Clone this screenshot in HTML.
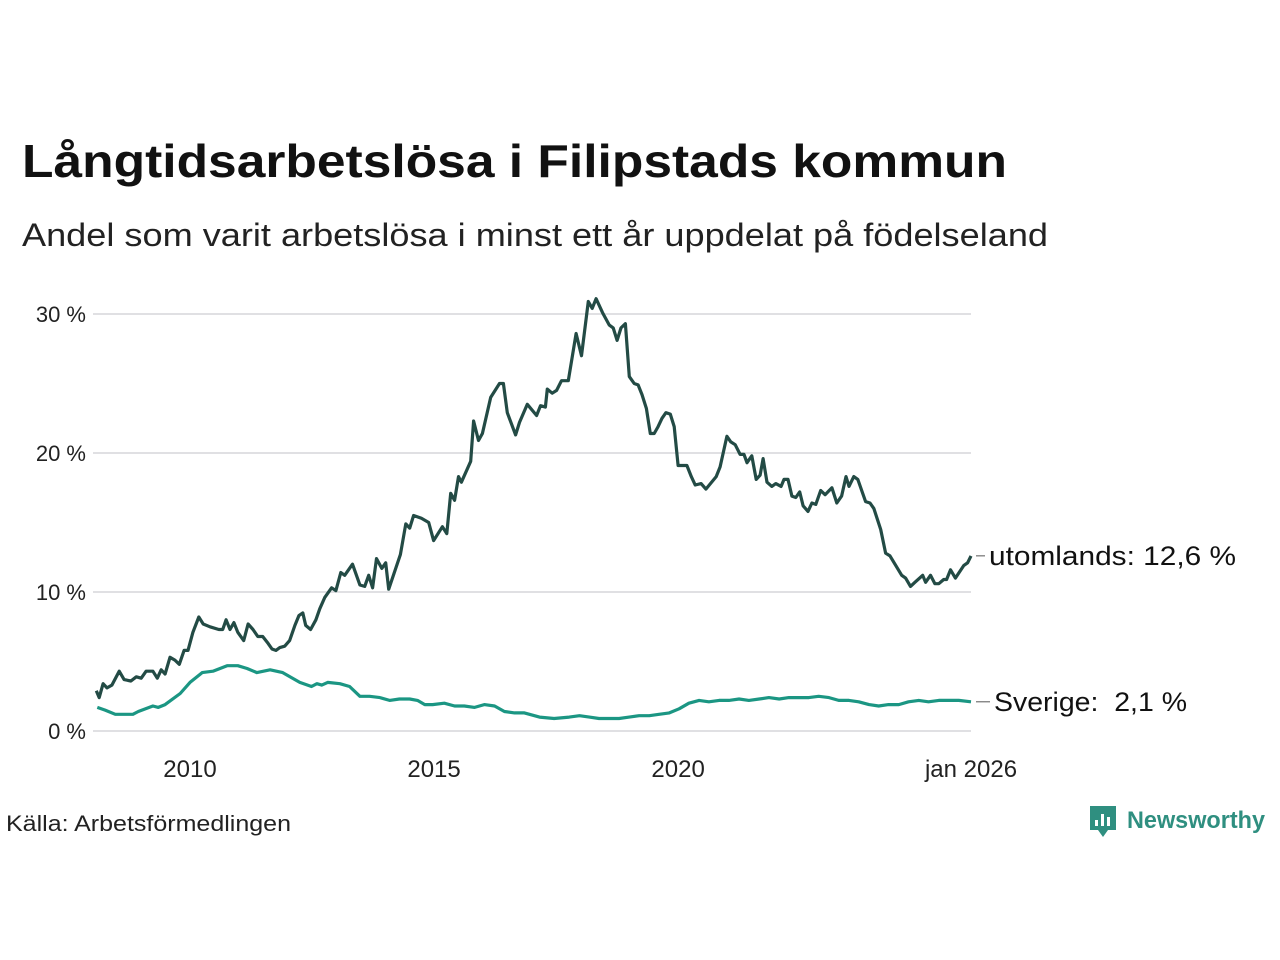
<!DOCTYPE html>
<html><head><meta charset="utf-8"><style>
html,body{margin:0;padding:0;background:#fff;width:1280px;height:960px;overflow:hidden}
svg text{font-family:"Liberation Sans","DejaVu Sans",sans-serif}
</style></head><body>
<svg id="chart" width="1280" height="960" viewBox="0 0 1280 960" xmlns="http://www.w3.org/2000/svg">
<text x="22" y="177" font-size="46" font-weight="bold" fill="#111" textLength="985" lengthAdjust="spacingAndGlyphs">Långtidsarbetslösa i Filipstads kommun</text>
<text x="22" y="246" font-size="32" fill="#222" textLength="1026" lengthAdjust="spacingAndGlyphs">Andel som varit arbetslösa i minst ett år uppdelat på födelseland</text>
<g id="grid"></g>
<g id="axes"></g>
<g id="series"></g>
<text x="6" y="831" font-size="22" fill="#222" textLength="285" lengthAdjust="spacingAndGlyphs">Källa: Arbetsförmedlingen</text>
<g>
<path d="M1090 806h26v24h-8l-5 7-5-7h-8z" fill="#2f8f80"/>
<rect x="1095" y="820" width="3" height="6" fill="#fff"/><rect x="1101" y="814" width="3" height="12" fill="#fff"/><rect x="1107" y="817" width="3" height="9" fill="#fff"/>
<text x="1127" y="828" font-size="24" font-weight="bold" fill="#2f8f80" textLength="138" lengthAdjust="spacingAndGlyphs">Newsworthy</text>
</g>
</svg>
<script>
const yTicks=[0,10,20,30];
const tickLabels=["0 %","10 %","20 %","30 %"];
const xTicks=[2010,2015,2020,2026];
const xTickLabels=["2010","2015","2020","jan 2026"];
const abroadDates=[2008.08,2008.14,2008.22,2008.30,2008.40,2008.55,2008.65,2008.79,2008.90,2009.00,2009.10,2009.24,2009.33,2009.41,2009.49,2009.59,2009.69,2009.78,2009.88,2009.96,2010.06,2010.18,2010.27,2010.41,2010.59,2010.67,2010.74,2010.82,2010.90,2010.98,2011.10,2011.19,2011.29,2011.39,2011.49,2011.60,2011.68,2011.76,2011.84,2011.94,2012.04,2012.15,2012.23,2012.31,2012.37,2012.47,2012.58,2012.66,2012.76,2012.90,2012.99,2013.09,2013.17,2013.33,2013.48,2013.58,2013.66,2013.74,2013.82,2013.93,2014.01,2014.07,2014.31,2014.42,2014.50,2014.58,2014.74,2014.89,2014.99,2015.17,2015.26,2015.34,2015.42,2015.50,2015.56,2015.75,2015.81,2015.91,2015.99,2016.16,2016.34,2016.42,2016.50,2016.67,2016.75,2016.91,2017.10,2017.18,2017.28,2017.32,2017.42,2017.51,2017.61,2017.75,2017.91,2018.02,2018.16,2018.24,2018.32,2018.45,2018.59,2018.67,2018.75,2018.83,2018.92,2019.00,2019.10,2019.18,2019.26,2019.35,2019.43,2019.51,2019.59,2019.67,2019.75,2019.84,2019.92,2020.00,2020.08,2020.18,2020.27,2020.35,2020.47,2020.57,2020.78,2020.86,2021.00,2021.08,2021.17,2021.27,2021.35,2021.41,2021.51,2021.60,2021.68,2021.74,2021.82,2021.92,2022.00,2022.11,2022.17,2022.25,2022.33,2022.41,2022.49,2022.56,2022.66,2022.74,2022.82,2022.92,2023.01,2023.15,2023.25,2023.35,2023.44,2023.50,2023.60,2023.68,2023.84,2023.93,2024.01,2024.15,2024.25,2024.34,2024.58,2024.66,2024.76,2024.85,2025.01,2025.07,2025.17,2025.26,2025.34,2025.44,2025.50,2025.58,2025.68,2025.85,2025.93,2026.00];
const abroadValues=[2.9,2.4,3.4,3.1,3.3,4.3,3.7,3.6,3.9,3.8,4.3,4.3,3.8,4.4,4.1,5.3,5.1,4.8,5.8,5.8,7.1,8.2,7.7,7.5,7.3,7.3,8.0,7.3,7.8,7.1,6.5,7.7,7.3,6.8,6.8,6.3,5.9,5.8,6.0,6.1,6.5,7.6,8.3,8.5,7.6,7.3,8.0,8.8,9.6,10.3,10.1,11.4,11.2,12.0,10.5,10.4,11.2,10.3,12.4,11.7,12.1,10.2,12.7,14.9,14.6,15.5,15.3,15.0,13.7,14.7,14.2,17.1,16.6,18.3,17.9,19.4,22.3,20.9,21.4,24.0,25.0,25.0,22.9,21.3,22.2,23.5,22.7,23.4,23.3,24.6,24.3,24.5,25.2,25.2,28.6,27.0,30.9,30.4,31.1,30.1,29.2,29.0,28.1,29.0,29.3,25.5,25.0,24.9,24.2,23.2,21.4,21.4,21.9,22.5,22.9,22.8,21.9,19.1,19.1,19.1,18.3,17.7,17.8,17.4,18.3,19.0,21.2,20.8,20.6,19.9,19.9,19.3,19.8,18.1,18.4,19.6,17.9,17.6,17.8,17.6,18.1,18.1,16.9,16.8,17.2,16.2,15.8,16.4,16.3,17.3,17.0,17.5,16.4,16.9,18.3,17.6,18.3,18.1,16.5,16.4,16.0,14.5,12.8,12.6,11.2,11.0,10.4,10.7,11.2,10.7,11.2,10.6,10.6,10.9,10.9,11.6,11.0,11.9,12.1,12.6];
const swedenDates=[2008.10,2008.26,2008.47,2008.83,2008.94,2009.24,2009.35,2009.49,2009.80,2010.00,2010.25,2010.47,2010.76,2010.98,2011.17,2011.37,2011.64,2011.90,2012.25,2012.49,2012.60,2012.70,2012.82,2013.07,2013.27,2013.48,2013.68,2013.89,2014.09,2014.29,2014.50,2014.66,2014.81,2014.97,2015.21,2015.42,2015.62,2015.83,2016.03,2016.24,2016.44,2016.65,2016.85,2017.16,2017.46,2017.77,2017.98,2018.18,2018.38,2018.59,2018.79,2019.00,2019.20,2019.41,2019.61,2019.82,2020.02,2020.22,2020.43,2020.63,2020.84,2021.04,2021.25,2021.45,2021.66,2021.86,2022.07,2022.27,2022.47,2022.68,2022.88,2023.09,2023.29,2023.50,2023.70,2023.91,2024.11,2024.31,2024.52,2024.72,2024.93,2025.13,2025.34,2025.54,2025.75,2026.00];
const swedenValues=[1.7,1.5,1.2,1.2,1.4,1.8,1.7,1.9,2.7,3.5,4.2,4.3,4.7,4.7,4.5,4.2,4.4,4.2,3.5,3.2,3.4,3.3,3.5,3.4,3.2,2.5,2.5,2.4,2.2,2.3,2.3,2.2,1.9,1.9,2.0,1.8,1.8,1.7,1.9,1.8,1.4,1.3,1.3,1.0,0.9,1.0,1.1,1.0,0.9,0.9,0.9,1.0,1.1,1.1,1.2,1.3,1.6,2.0,2.2,2.1,2.2,2.2,2.3,2.2,2.3,2.4,2.3,2.4,2.4,2.4,2.5,2.4,2.2,2.2,2.1,1.9,1.8,1.9,1.9,2.1,2.2,2.1,2.2,2.2,2.2,2.1];

const NS="http://www.w3.org/2000/svg";
const X0=93,X1=971,Y0=731,PXY=13.9;
function xs(d){return 190+(d-2010)*(971-190)/16;}
function ys(v){return Y0-v*PXY;}
function mk(tag,attrs,parent){const e=document.createElementNS(NS,tag);for(const k in attrs)e.setAttribute(k,attrs[k]);parent.appendChild(e);return e;}
const grid=document.getElementById('grid'),axes=document.getElementById('axes'),series=document.getElementById('series');
yTicks.forEach((t,i)=>{
  const l=mk('line',{x1:X0,x2:X1,y1:ys(t),y2:ys(t),stroke:'#e0e0e3','stroke-width':2},grid);
  
  
  const tx=mk('text',{x:86,y:ys(t)+8,'font-size':22,fill:'#222','text-anchor':'end'},axes);
  tx.textContent=tickLabels[i];
  
  
});
xTicks.forEach((t,i)=>{
  const tx=mk('text',{x:xs(t),y:777,'font-size':24,fill:'#222','text-anchor':'middle'},axes);
  tx.textContent=xTickLabels[i];
  
  
});
function line(dates,vals,color,name){
  const d=dates.map((t,i)=>(i?'L':'M')+xs(t).toFixed(1)+' '+ys(vals[i]).toFixed(1)).join('');
  const p=mk('path',{d:d,fill:'none',stroke:color,'stroke-width':3.2,'stroke-linejoin':'round'},series);
  
  
}
line(swedenDates,swedenValues,'#1b9683','line-sverige');
line(abroadDates,abroadValues,'#234b45','line-utomlands');
function endLabel(v,x,w,text,name){
  const yy=ys(v);
  mk('line',{x1:976,x2:x-4,y1:yy,y2:yy,stroke:'#555','stroke-width':1},series);
  const tx=mk('text',{x:x,y:yy+9,'font-size':27,fill:'#111',textLength:w,lengthAdjust:'spacingAndGlyphs'},series);
  tx.setAttribute('xml:space','preserve');
  tx.style.whiteSpace='pre';
  tx.textContent=text;
  
  
}
endLabel(abroadValues[abroadValues.length-1],989,247,'utomlands: 12,6 %','label-utomlands');
endLabel(swedenValues[swedenValues.length-1],994,193,'Sverige:  2,1 %','label-sverige');
</script>
</body></html>
